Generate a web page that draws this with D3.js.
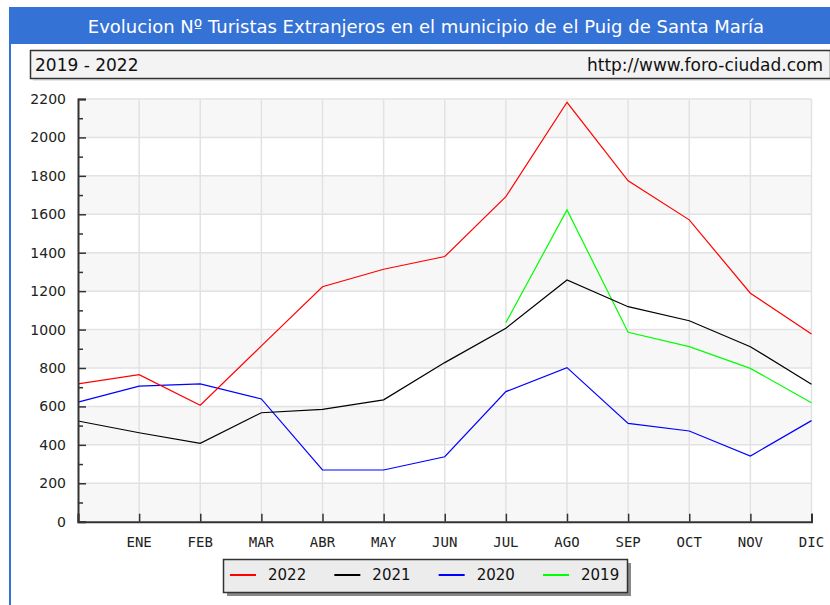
<!DOCTYPE html>
<html>
<head>
<meta charset="utf-8">
<script src="https://cdn.jsdelivr.net/npm/d3@7"></script>
<style>
  body { margin: 0; background: #fff; }
  svg { display: block; }
</style>
</head>
<body>
<svg id="chart" width="830" height="605"></svg>
<script>
// first slot has no label (end of previous year)
const months = ['', 'ENE', 'FEB', 'MAR', 'ABR', 'MAY', 'JUN', 'JUL', 'AGO', 'SEP', 'OCT', 'NOV', 'DIC'];
const yTicks = [0, 200, 400, 600, 800, 1000, 1200, 1400, 1600, 1800, 2000, 2200];

const v2022 = [717, 765, 606, 915, 1223, 1314, 1380, 1692, 2183, 1774, 1571, 1189, 977];
const v2021 = [524, 463, 408, 567, 585, 634, 828, 1007, 1258, 1119, 1046, 911, 715];
const v2020 = [622, 706, 717, 639, 269, 269, 338, 677, 802, 512, 472, 342, 526];
const v2019 = [null, null, null, null, null, null, null, 1036, 1623, 986, 911, 798, 619];

const series = [
  { name: '2022', color: '#ff0000', values: v2022 },
  { name: '2021', color: '#000000', values: v2021 },
  { name: '2020', color: '#0000ff', values: v2020 },
  { name: '2019', color: '#00ff00', values: v2019 },
];

const svg = d3.select('#chart');
const plotL = 78, plotR = 811.5, plotT = 99, plotB = 521.7;

// header
svg.append('rect').attr('x', 9).attr('y', 7).attr('width', 821).attr('height', 37).attr('fill', '#3572d6');
svg.append('rect').attr('x', 9).attr('y', 44).attr('width', 2).attr('height', 561).attr('fill', '#3572d6');
svg.append('text')
  .attr('x', 426).attr('y', 33)
  .attr('text-anchor', 'middle')
  .attr('fill', '#fff')
  .style('font', '18px "DejaVu Sans", Verdana, sans-serif')
  .text('Evolucion Nº Turistas Extranjeros en el municipio de el Puig de Santa María');

svg.append('rect').attr('x', 33).attr('y', 53).attr('width', 800).attr('height', 28).attr('fill', '#e6e6e6');
svg.append('rect').attr('x', 30.5).attr('y', 50.5).attr('width', 800).attr('height', 28)
  .attr('fill', '#f3f3f3').attr('stroke', '#333').attr('stroke-width', 1.5);
svg.append('text').attr('x', 35).attr('y', 71)
  .style('font', '17px "DejaVu Sans", Verdana, sans-serif').attr('fill', '#111')
  .text('2019 - 2022');
svg.append('text').attr('x', 823).attr('y', 71).attr('text-anchor', 'end')
  .style('font', '17px "DejaVu Sans", Verdana, sans-serif').attr('fill', '#111')
  .text('http://www.foro-ciudad.com');

const x = d3.scalePoint().domain(d3.range(months.length)).range([plotL, plotR]);
const y = d3.scaleLinear().domain([0, 2200]).range([plotB, plotT]);

// alternating bands
const bands = svg.append('g');
for (let i = 0; i < yTicks.length - 1; i++) {
  bands.append('rect')
    .attr('x', plotL).attr('width', plotR - plotL)
    .attr('y', y(yTicks[i + 1])).attr('height', y(yTicks[i]) - y(yTicks[i + 1]))
    .attr('fill', (yTicks.length - 2 - i) % 2 === 0 ? '#f7f7f7' : '#fff');
}

// grid
const grid = svg.append('g').attr('stroke', '#e2e2e2').attr('stroke-width', 1.5);
grid.selectAll('.h').data(yTicks.slice(1)).enter().append('line')
  .attr('x1', plotL).attr('x2', plotR).attr('y1', d => y(d)).attr('y2', d => y(d));
grid.selectAll('.v').data(d3.range(1, months.length)).enter().append('line')
  .attr('x1', d => x(d)).attr('x2', d => x(d)).attr('y1', plotT).attr('y2', plotB);

// lines
const line = d3.line()
  .defined(d => d != null)
  .x((d, i) => x(i))
  .y(d => y(d));
svg.append('g').selectAll('path').data(series.slice().reverse()).enter().append('path')
  .attr('d', s => line(s.values))
  .attr('fill', 'none')
  .attr('stroke', s => s.color)
  .attr('stroke-width', 1.2);

// y axis
const yAxis = svg.append('g').attr('transform', `translate(${plotL},0)`)
  .call(d3.axisRight(y).tickValues(d3.range(0, 2201, 100)).tickSize(8).tickFormat(''));
yAxis.selectAll('.tick line').attr('x2', d => d % 200 === 0 ? 8 : 5).attr('stroke', '#333').attr('stroke-width', 1.5);
yAxis.select('.domain').attr('stroke', '#333').attr('stroke-width', 2);
svg.append('g').selectAll('text').data(yTicks).enter().append('text')
  .attr('x', 66).attr('y', d => y(d) + 5)
  .attr('text-anchor', 'end')
  .style('font', '14px "DejaVu Sans", Verdana, sans-serif').attr('fill', '#222')
  .text(d => d);

// x axis
const xAxis = svg.append('g').attr('transform', `translate(0,${plotB})`)
  .call(d3.axisTop(x).tickSize(8).tickFormat(''));
xAxis.selectAll('.tick line').attr('stroke', '#333').attr('stroke-width', 1.5);
xAxis.select('.domain').attr('stroke', '#333').attr('stroke-width', 2);
svg.append('g').selectAll('text').data(months).enter().append('text')
  .attr('x', (d, i) => x(i)).attr('y', 547)
  .attr('text-anchor', 'middle')
  .style('font', '14px "DejaVu Sans Mono", monospace').attr('fill', '#222')
  .text(d => d);

// legend
const lg = svg.append('g');
lg.append('rect').attr('x', 227).attr('y', 563).attr('width', 404).attr('height', 33).attr('fill', '#888');
lg.append('rect').attr('x', 223.5).attr('y', 559.5).attr('width', 404).attr('height', 33)
  .attr('fill', '#ececec').attr('stroke', '#333').attr('stroke-width', 1.5);
const lx = d3.scalePoint().domain(series.map(s => s.name)).range([230, 543]);
const item = lg.selectAll('.item').data(series).enter().append('g')
  .attr('transform', s => `translate(${lx(s.name)},575)`);
item.append('line').attr('x1', 0).attr('x2', 26).attr('stroke', s => s.color).attr('stroke-width', 2);
item.append('text').attr('x', 38).attr('y', 5)
  .style('font', '15px "DejaVu Sans", Verdana, sans-serif').attr('fill', '#111')
  .text(s => s.name);
</script>
</body>
</html>
